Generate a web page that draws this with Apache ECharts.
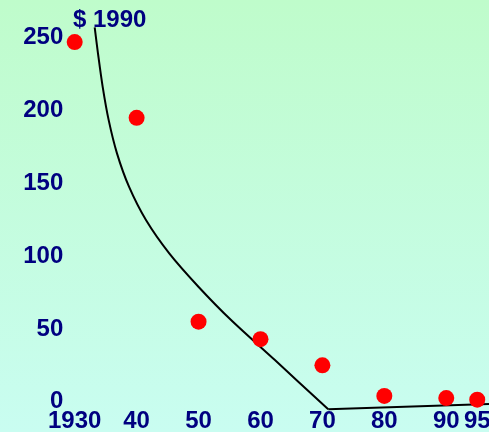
<!DOCTYPE html>
<html><head><meta charset="utf-8">
<script src="https://cdn.jsdelivr.net/npm/echarts@6/dist/echarts.min.js"></script>
<style>html,body{margin:0;padding:0;}#c{width:489px;height:432px;}</style>
</head><body><div id="c"></div>
<script>
// Data
const years = [1930, 1940, 1950, 1960, 1970, 1980, 1990, 1995];
const values = [247, 195, 55, 43, 25, 4, 2.5, 1.4];
const curveYears = [1933.23, 1933.76, 1934.52, 1935.49, 1936.83, 1938.77, 1941.51, 1945.27, 1949.98, 1955.25, 1962.33, 1970.94];
const curveValues = [257.1, 239.3, 216.3, 193.4, 170.6, 147.7, 124.8, 101.9, 79.0, 56.1, 28.6, -5.2];
const tailYears = [1970.94, 1996.9];
const tailValues = [-5.2, -1.6];
const xTicks = [1930, 1940, 1950, 1960, 1970, 1980, 1990, 1995];
const xTickLabels = ['1930', '40', '50', '60', '70', '80', '90', '95'];
const yTicks = [0, 50, 100, 150, 200, 250];
const titleText = '$ 1990';

const navy = '#000080';
const font = 'Liberation Sans, Arial, sans-serif';
const fs = 24;
const chart = echarts.init(document.getElementById('c'), null, {renderer: 'canvas'});
chart.setOption({
  animation: false,
  backgroundColor: {type: 'linear', x: 0, y: 0, x2: 0, y2: 1,
    colorStops: [{offset: 0, color: '#bffccb'}, {offset: 1, color: '#c9fdf1'}]},
  title: {text: titleText, left: 73, top: 8, padding: 0,
    textStyle: {color: navy, fontSize: fs, fontWeight: 'bold', fontFamily: font}},
  grid: {left: 68, right: 0, top: 8.6, bottom: 432 - 416.3, containLabel: false, outerBoundsMode: 'none'},
  xAxis: {
    type: 'value', min: 1928.92, max: 1996.9,
    axisLine: {show: false}, axisTick: {show: false}, splitLine: {show: false},
    axisLabel: {
      customValues: xTicks,
      formatter: v => xTickLabels[xTicks.indexOf(v)] || '',
      color: navy, fontSize: fs, fontWeight: 'bold', fontFamily: font,
      verticalAlign: 'middle', margin: 5.4, hideOverlap: false
    }
  },
  yAxis: {
    type: 'value', min: -10, max: 270,
    axisLine: {show: false}, axisTick: {show: false}, splitLine: {show: false},
    axisLabel: {
      customValues: yTicks,
      color: navy, fontSize: fs, fontWeight: 'bold', fontFamily: font, margin: 4.7
    }
  },
  series: [
    {type: 'line', data: curveYears.map((y, i) => [y, curveValues[i]]),
     smooth: 0.3, showSymbol: false, symbol: 'none',
     lineStyle: {color: '#000', width: 2}, clip: false, z: 2},
    {type: 'line', data: tailYears.map((y, i) => [y, tailValues[i]]),
     showSymbol: false, symbol: 'none',
     lineStyle: {color: '#000', width: 2}, clip: false, z: 2},
    {type: 'scatter', data: years.map((y, i) => [y, values[i]]),
     symbolSize: 16, itemStyle: {color: '#ff0000', opacity: 1}, clip: false, z: 3}
  ]
});
</script></body></html>
